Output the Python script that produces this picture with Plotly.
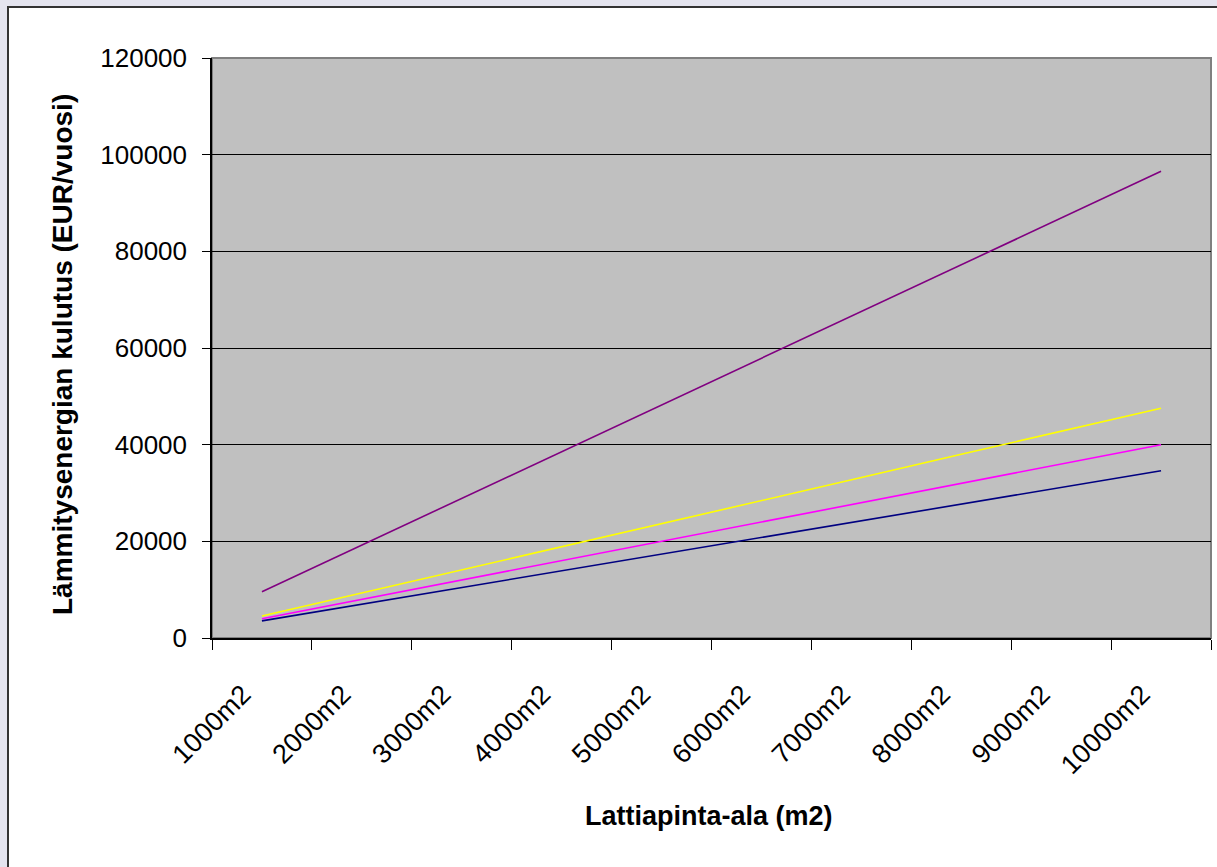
import plotly.graph_objects as go

# Floor area categories
categories = ["1000m2", "2000m2", "3000m2", "4000m2", "5000m2",
              "6000m2", "7000m2", "8000m2", "9000m2", "10000m2"]

# Annual heating energy cost (EUR/year) per series
series_purple = [9550, 19200, 28900, 38550, 48200, 57900, 67550, 77200, 86900, 96550]
series_yellow = [4550, 9300, 14100, 18900, 23700, 28400, 33200, 38000, 42800, 47550]
series_magenta = [4000, 8000, 12000, 16000, 20000, 24000, 28000, 32000, 36000, 40000]
series_navy = [3550, 7000, 10450, 13900, 17350, 20800, 24250, 27700, 31150, 34600]

y_ticks = [0, 20000, 40000, 60000, 80000, 100000, 120000]

FONT = "Liberation Sans, Arial, sans-serif"

fig = go.Figure()
for values, color in [(series_purple, "#800080"),
                      (series_yellow, "#ffff00"),
                      (series_magenta, "#ff00ff"),
                      (series_navy, "#000080")]:
    fig.add_trace(go.Scatter(x=categories, y=values, mode="lines",
                             line=dict(color=color, width=1.6),
                             showlegend=False))

W, H = 1217, 867
L, R, T, B = 212, 6, 58, 229
pw, ph = W - L - R, H - T - B


def px_x(v):
    return (v - L) / pw


def px_y(v):
    return (H - B - v) / ph


fig.update_layout(
    width=W, height=H,
    margin=dict(l=L, r=R, t=T, b=B, pad=0, autoexpand=False),
    paper_bgcolor="#e4e4ef",
    plot_bgcolor="#c0c0c0",
    font=dict(family=FONT, size=26, color="black"),
    shapes=[
        # white chart frame
        dict(type="rect", xref="paper", yref="paper", layer="below",
             x0=px_x(8), x1=px_x(1300), y0=px_y(900), y1=px_y(7),
             fillcolor="white", line=dict(color="#333333", width=2)),
        # grey plot area
        dict(type="rect", xref="paper", yref="paper", layer="below",
             x0=0, x1=1, y0=0, y1=1,
             fillcolor="#c0c0c0", line=dict(color="#808080", width=2)),
    ],
    annotations=[
        dict(text="<b>Lattiapinta-ala (m2)</b>", xref="paper", yref="paper",
             x=px_x(709), y=px_y(816), showarrow=False,
             xanchor="center", yanchor="middle", font=dict(size=27)),
        dict(text="<b>Lämmitysenergian kulutus (EUR/vuosi)</b>",
             xref="paper", yref="paper", textangle=-90,
             x=px_x(62), y=px_y(355), showarrow=False,
             xanchor="center", yanchor="middle", font=dict(size=28)),
    ],
)

fig.update_xaxes(
    type="category", categoryorder="array", categoryarray=categories,
    range=[-0.5, 9.5], automargin=False,
    tickson="boundaries", ticks="outside", ticklen=10, tickwidth=1,
    tickcolor="black", tickangle=-45, showgrid=False,
    showline=True, linecolor="black", linewidth=1.5,
    ticklabelstandoff=28, ticklabelshift=-19, tickfont=dict(size=27),
)
fig.update_yaxes(
    range=[0, 120000], tickvals=y_ticks, tickformat="d", automargin=False,
    ticks="outside", ticklen=8, tickcolor="black",
    showgrid=True, gridcolor="black", gridwidth=1,
    showline=True, linecolor="black", linewidth=1.5,
    zeroline=False, ticklabelstandoff=10, tickfont=dict(size=26),
)

fig.write_html("out.html")
